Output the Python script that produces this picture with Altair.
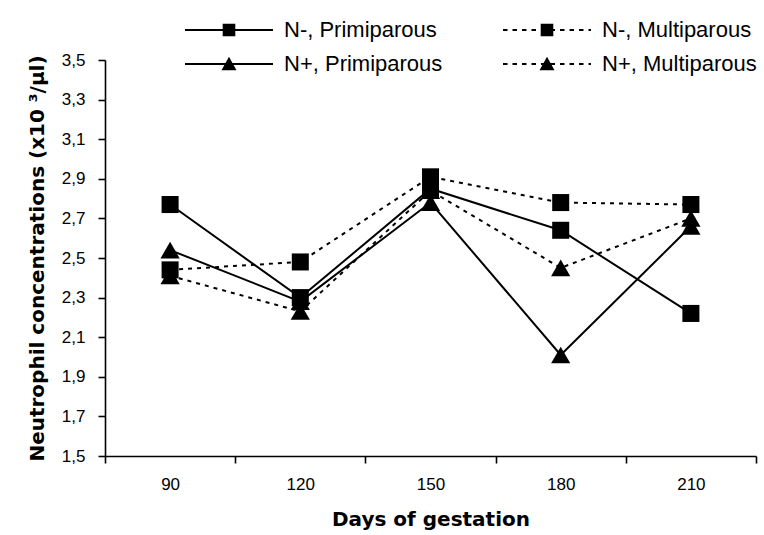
import altair as alt
import pandas as pd

# ---- data ----
days = [90, 120, 150, 180, 210]
series_names = ["N-, Primiparous", "N-, Multiparous", "N+, Primiparous", "N+, Multiparous"]
n_minus_prim = [2.77, 2.30, 2.85, 2.64, 2.22]
n_minus_multi = [2.44, 2.48, 2.91, 2.78, 2.77]
n_plus_prim = [2.54, 2.28, 2.78, 2.01, 2.66]
n_plus_multi = [2.41, 2.23, 2.84, 2.45, 2.70]
y_ticks = [1.5, 1.7, 1.9, 2.1, 2.3, 2.5, 2.7, 2.9, 3.1, 3.3, 3.5]

values = [n_minus_prim, n_minus_multi, n_plus_prim, n_plus_multi]
dash_kind = ["solid", "dotted", "solid", "dotted"]
marker_kind = ["square", "square", "triangle", "triangle"]

rows = []
for name, vals, dk, mk in zip(series_names, values, dash_kind, marker_kind):
    for d, v in zip(days, vals):
        rows.append({"series": name, "day": d, "value": v, "dash": dk, "marker": mk})
df = pd.DataFrame(rows)

# ---- legend symbol paths (style only) ----
def rect(x0, x1, y0, y1):
    return f"M{x0:.3f},{y0:.3f}H{x1:.3f}V{y1:.3f}H{x0:.3f}Z"

HALF = 4.4
line_solid = rect(-HALF, HALF, -0.1, 0.1)
dots = ""
x = -HALF
while x < HALF:
    dots += rect(x, min(x + 0.45, HALF), -0.1, 0.1)
    x += 0.95
square_p = rect(-0.63, 0.63, -0.63, 0.63)
tri_p = "M0,-0.72L0.75,0.62L-0.75,0.62Z"
legend_paths = [line_solid + square_p, dots + square_p, line_solid + tri_p, dots + tri_p]

x_enc = alt.X(
    "day:O",
    scale=alt.Scale(type="band", paddingInner=0, paddingOuter=0),
    axis=alt.Axis(
        title="Days of gestation",
        labelAngle=0,
        tickBand="extent",
        tickSize=7,
        labelPadding=13,
        titlePadding=17,
    ),
)
y_enc = alt.Y(
    "value:Q",
    scale=alt.Scale(domain=[1.5, 3.5], nice=False, zero=False),
    axis=alt.Axis(
        title="Neutrophil concentrations (x10 \u00b3/\u00b5l)",
        values=y_ticks,
        labelExpr="replace(format(datum.value, '.1f'), '.', ',')",
        tickSize=7,
        labelPadding=13,
        titlePadding=14,
    ),
)

base = alt.Chart(df)

solid_lines = base.transform_filter("datum.dash == 'solid'").mark_line(
    color="black", strokeWidth=2
).encode(x=x_enc, y=y_enc, detail="series:N")

dotted_lines = base.transform_filter("datum.dash == 'dotted'").mark_line(
    color="black", strokeWidth=2, strokeDash=[4, 5]
).encode(x=x_enc, y=y_enc, detail="series:N")

squares = base.transform_filter("datum.marker == 'square'").mark_point(
    shape="square", filled=True, color="black", size=290, opacity=1
).encode(x=x_enc, y=y_enc)

triangles = base.transform_filter("datum.marker == 'triangle'").mark_point(
    shape="triangle-up", filled=True, color="black", size=370, opacity=1
).encode(x=x_enc, y=y_enc)

legend_layer = base.transform_filter("false").mark_point(
    filled=True, color="black", opacity=1
).encode(
    x=x_enc,
    y=y_enc,
    shape=alt.Shape(
        "series:N",
        scale=alt.Scale(domain=series_names, range=legend_paths),
        legend=alt.Legend(
            title=None,
            orient="none",
            direction="horizontal",
            legendX=113,
            legendY=-41,
            columns=2,
            columnPadding=60,
            rowPadding=12,
            symbolSize=400,
            symbolFillColor="black",
            symbolStrokeWidth=0,
            symbolOpacity=1,
            labelOffset=44,
            labelFontSize=22,
            labelFont="Liberation Sans",
            labelColor="black",
            labelLimit=300,
        ),
    ),
)

chart = (
    alt.layer(solid_lines, dotted_lines, squares, triangles, legend_layer)
    .properties(
        width=651,
        height=396,
        autosize=alt.AutoSizeParams(type="none"),
        padding={"left": 105, "top": 60, "right": 8, "bottom": 79},
        background="white",
    )
    .configure_view(stroke=None)
    .configure_axis(
        grid=False,
        domainColor="black",
        domainWidth=1.6,
        tickColor="black",
        tickWidth=1.6,
        labelFont="Liberation Sans",
        labelFontSize=17,
        labelColor="black",
        titleFont="DejaVu Sans",
        titleFontSize=20,
        titleFontWeight="bold",
        titleColor="black",
    )
)

chart.save("out.html", embed_options={"renderer": "svg", "actions": False})
